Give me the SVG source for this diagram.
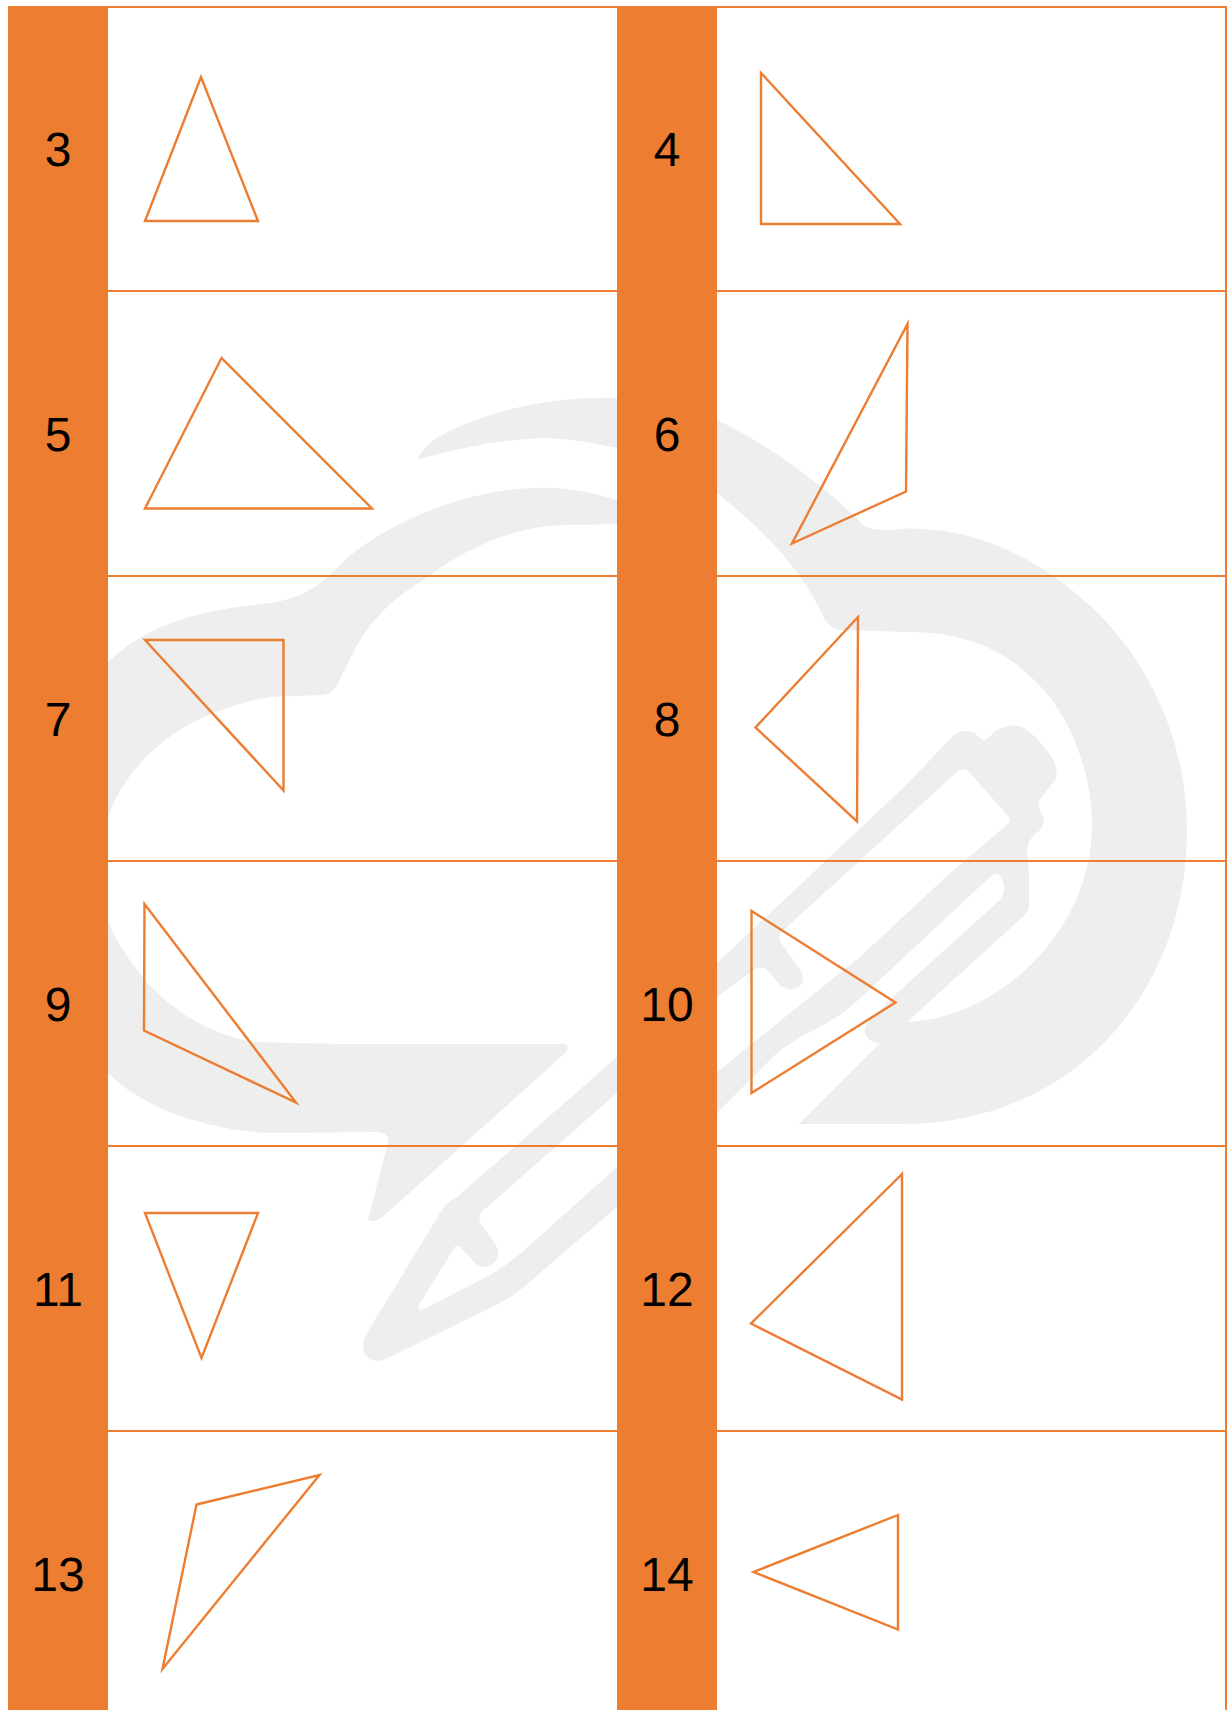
<svg xmlns="http://www.w3.org/2000/svg" width="1227" height="1710" viewBox="0 0 1227 1710">
<style>
.wm{fill:#eeeeee}
.hole{fill:#ffffff}
.grid{stroke:#ed7d31;stroke-width:2;fill:none}
.band{fill:#ed7d31}
.tri{fill:none;stroke:#ed7d31;stroke-width:2.4;stroke-miterlimit:12}
.num{font-family:"Liberation Sans",Arial,sans-serif;font-size:48px;fill:#000;text-anchor:middle;text-rendering:geometricPrecision}
</style>
<rect width="1227" height="1710" fill="#ffffff"/>
<g id="watermark">
<path class="wm" d="M417 460C422 450 428 445 433 440C470 418 535 396 617 398L717 420C770 445 830 490 861 523C868 530 880 531 900 529C960 525 1030 550 1087 603C1140 650 1187 730 1187 830C1187 1000 1065 1124 905 1124L799 1124L880 1043Q872 1044 866 1036Q862 1028 869 1021L897 993L1001 899Q1008 888 1000 876Q996 871 990 877L855 1003Q835 1020 810 1032Q790 1042 775 1055L717 1113L617 1207L540 1273Q520 1292 500 1303L388 1358Q377 1364 368 1358Q359 1348 367 1333L440 1213Q447 1202 457 1197L617 1057L717 963L904 787L954 735Q964 728 974 733L984 741L997 730Q1012 722 1024 728Q1036 735 1050 755Q1060 768 1055 780L1041 798Q1036 806 1041 812Q1047 822 1040 830Q1028 838 1027 850L1029 873L1029 905Q1029 910 1025 915L907 1022C1000 1018 1092 930 1092 825C1092 770 1068 712 1036 682C1005 650 965 632 908 632L841 630Q830 630 824 618C805 575 770 535 717 493L617 448C590 442 555 436 527 439C495 441 450 450 417 460Z"/>
<path class="hole" d="M1008 816Q1011 820 1008 824L950 873L860 957L810 997L717 1072L617 1167L530 1245Q512 1262 490 1275L424 1309Q416 1311 419 1305L455 1247Q457 1244 461 1248L476 1264Q487 1271 495 1262Q502 1254 495 1244L481 1224Q476 1215 486 1208L617 1093L717 997L754 970Q761 965 767 970L780 985Q792 994 801 985Q806 978 800 970L782 944Q775 935 787 927L957 772Q964 766 970 773Z"/>
<path class="wm" d="M617 500C585 490 560 487 533 488C470 490 390 520 345 560C325 580 310 597 270 603C230 608 160 612 108 662L70 750L60 870L108 1073C140 1105 195 1128 267 1133L373 1132Q390 1132 388 1142L368 1220Q375 1224 387 1213L562 1056Q572 1048 565 1044L340 1044L253 1042C190 1030 140 990 108 922L95 870L108 817C125 770 170 715 270 697L320 695Q332 695 337 685L352 655C370 620 390 600 428 577C470 545 520 525 567 525L617 524Z"/>
</g>
<g id="grid">
<path class="grid" d="M108 7H1226V1710M108 291H1226M108 576H1226M108 861H1226M108 1146H1226M108 1431H1226"/>
</g>
<g id="column-left"><rect class="band" x="8" y="6" width="100" height="1704"/></g>
<g id="column-right"><rect class="band" x="617" y="6" width="100" height="1704"/></g>
<g id="cell-3"><text class="num" x="58" y="165.500">3</text><polygon class="tri" points="201,77 145,221 258,221"/></g>
<g id="cell-4"><text class="num" x="667" y="165.500">4</text><polygon class="tri" points="761,73 761,224 900,224"/></g>
<g id="cell-5"><text class="num" x="58" y="450.500">5</text><polygon class="tri" points="221.500,358 145,508.500 372,508.500"/></g>
<g id="cell-6"><text class="num" x="667" y="450.500">6</text><polygon class="tri" points="907.500,324 906,491.500 792,543.500"/></g>
<g id="cell-7"><text class="num" x="58" y="735.500">7</text><polygon class="tri" points="145,640 283.500,640 283.500,790.500"/></g>
<g id="cell-8"><text class="num" x="667" y="735.500">8</text><polygon class="tri" points="858,617 755.500,727.500 857,821.500"/></g>
<g id="cell-9"><text class="num" x="58" y="1020.500">9</text><polygon class="tri" points="144.500,904 144,1030.500 296,1102.500"/></g>
<g id="cell-10"><text class="num" x="667" y="1020.500">10</text><polygon class="tri" points="751.500,911 751.500,1093 895.500,1002.500"/></g>
<g id="cell-11"><text class="num" x="58" y="1305.500">11</text><polygon class="tri" points="145,1213 258,1213 201.500,1358"/></g>
<g id="cell-12"><text class="num" x="667" y="1305.500">12</text><polygon class="tri" points="902,1174 751,1323.500 902,1399.500"/></g>
<g id="cell-13"><text class="num" x="58" y="1590.500">13</text><polygon class="tri" points="196.500,1504.500 319.500,1475 162.500,1669"/></g>
<g id="cell-14"><text class="num" x="667" y="1590.500">14</text><polygon class="tri" points="898,1515 753.500,1572 898,1629.500"/></g>
</svg>
